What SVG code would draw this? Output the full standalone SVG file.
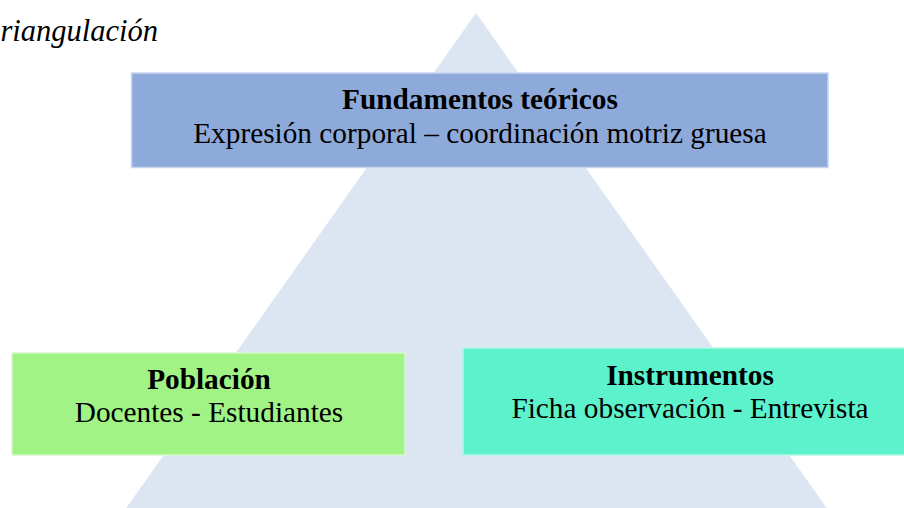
<svg xmlns="http://www.w3.org/2000/svg" width="904" height="508" viewBox="0 0 904 508">
<style>
.t{font-family:"Liberation Serif","Times New Roman",serif;font-size:29.3px;fill:#000;text-anchor:middle}
.b{font-weight:bold}
.box{stroke-width:1.5}
.title{font-family:"Liberation Serif","Times New Roman",serif;font-style:italic;font-size:30.5px;fill:#000}
</style>
<rect x="0" y="0" width="904" height="508" fill="#ffffff"/>
<text class="title" x="0.5" y="41">riangulación</text>
<g id="triangle">
<polygon points="476,13 122,514 831,514" fill="#DCE6F2"/>
</g>
<g id="connectors"></g>
<g id="fundamentos">
<rect class="box" x="131.5" y="73" width="696.5" height="94.5" fill="#8EAADB" stroke="#C9D6EE"/>
<text class="t b" x="480" y="109">Fundamentos teóricos</text>
<text class="t" x="480" y="143">Expresión corporal – coordinación motriz gruesa</text>
</g>
<g id="poblacion">
<rect class="box" x="12" y="353" width="393" height="102" fill="#A0F384" stroke="#D2F9C6"/>
<text class="t b" x="209" y="389">Población</text>
<text class="t" x="209" y="422">Docentes - Estudiantes</text>
</g>
<g id="instrumentos">
<rect class="box" x="463" y="348" width="460" height="107" fill="#5CF2CC" stroke="#B4F7E4"/>
<text class="t b" x="690" y="385">Instrumentos</text>
<text class="t" x="690" y="418">Ficha observación - Entrevista</text>
</g>
</svg>
